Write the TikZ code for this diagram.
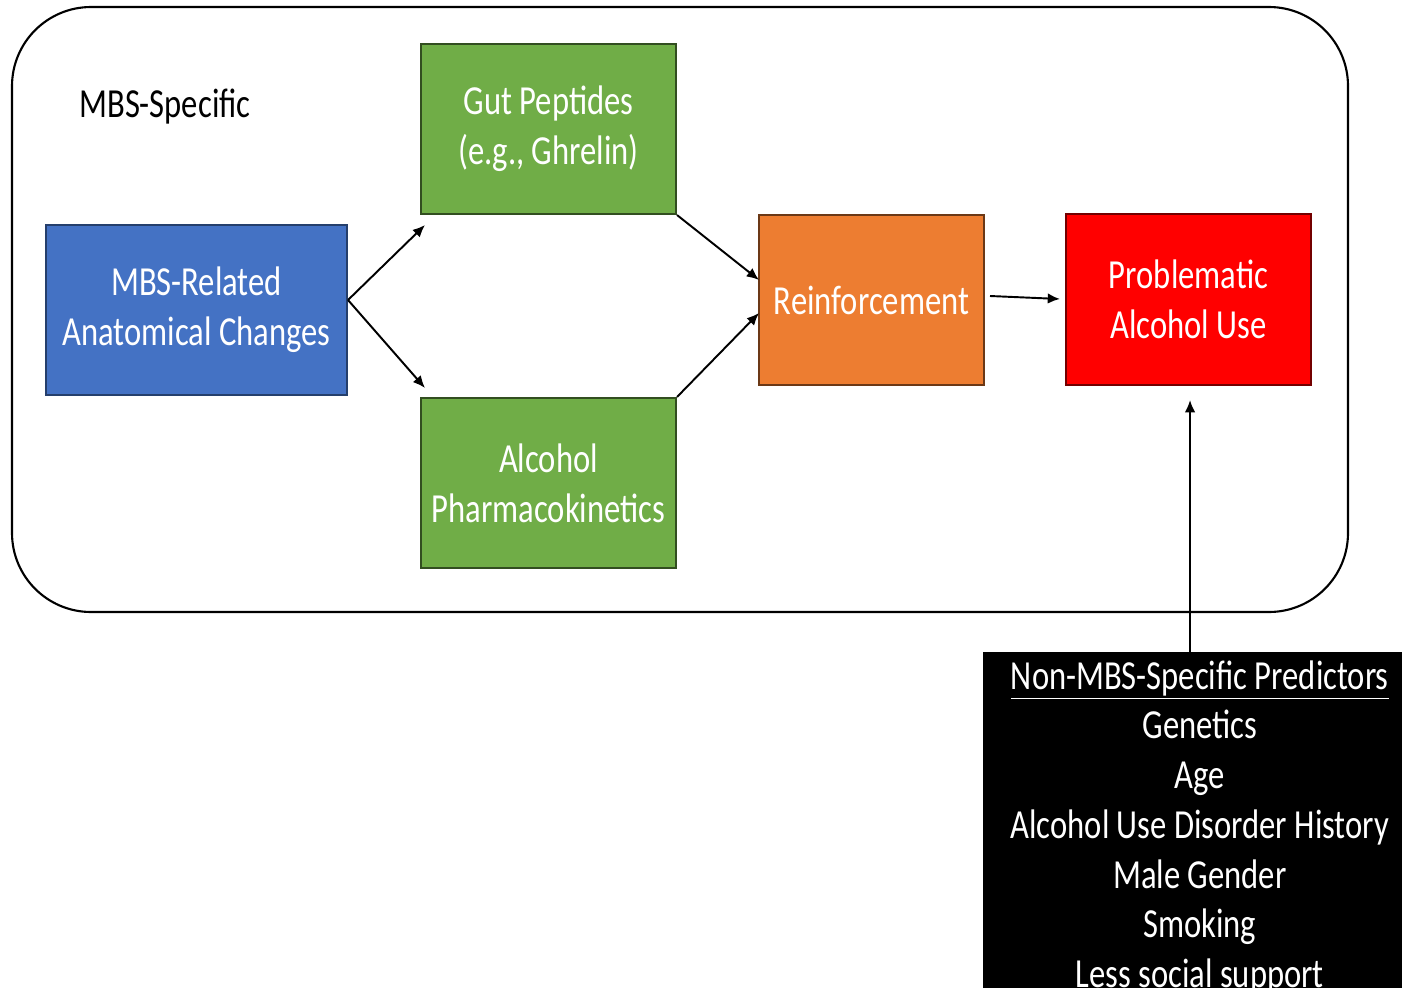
\documentclass[tikz,border=0pt]{standalone}
\usepackage{fontspec}
\setmainfont{Carlito}[FakeStretch=0.79]
\usetikzlibrary{arrows.meta}
\definecolor{mbsblue}{HTML}{4472C4}
\definecolor{mbsgreen}{HTML}{70AD47}
\definecolor{mbsorange}{HTML}{ED7D31}
\definecolor{mbsred}{HTML}{FF0000}
\tikzset{
  box/.style={line width=1.2pt, text=white, align=center, inner sep=0pt,
    font=\fontsize{23.5}{28.4}\selectfont},
  bluebox/.style={box, fill=mbsblue, draw=mbsblue!55!black},
  greenbox/.style={box, fill=mbsgreen, draw=mbsgreen!45!black},
  orangebox/.style={box, fill=mbsorange, draw=mbsorange!45!black},
  redbox/.style={box, fill=mbsred, draw=mbsred!45!black},
  link/.style={->, line width=1.1pt},
}
\begin{document}
\begin{tikzpicture}[x=0.02cm,y=-0.02cm,>={Latex[length=7pt,width=6pt]}]
	\useasboundingbox (0,0) rectangle (1402,987);
	\draw[line width=1.2pt, rounded corners=45pt] (12,7) rectangle (1348,612);
	\node[font=\fontsize{23.5}{28.4}\selectfont] (mbs) at (165,107) {MBS-Specific};
	\node[bluebox, minimum width=6.02cm, minimum height=3.4cm] (anat) at (196.5,310) {MBS-Related\\Anatomical Changes};
	\node[greenbox, minimum width=5.1cm, minimum height=3.4cm] (gut) at (548.5,129) {Gut Peptides\\(e.g., Ghrelin)};
	\node[greenbox, minimum width=5.1cm, minimum height=3.4cm] (pk) at (548.5,483) {Alcohol\\Pharmacokinetics};
	\node[orangebox, minimum width=4.5cm, minimum height=3.4cm] (reinf) at (871.5,300) {Reinforcement};
	\node[redbox, minimum width=4.9cm, minimum height=3.42cm] (prob) at (1188.5,299.5) {Problematic\\Alcohol Use};
	\node[fill=black, text=white, anchor=north west, align=flush center, text width=8.66cm,
		minimum height=7cm, inner xsep=0pt, inner ysep=2pt,
		font=\fontsize{23.5}{28.3}\selectfont] (pred) at (983,652)
		{\underline{Non-MBS-Specific Predictors}\\Genetics\\Age\\Alcohol Use Disorder History\\Male Gender\\Smoking\\Less social support};
	% arrow ends
	\coordinate (split) at (348,300);
	\coordinate (gutin) at (425,225);
	\coordinate (pkin) at (425,388);
	\coordinate (rin1) at (759,280);
	\coordinate (rin2) at (759,313);
	\coordinate (rout) at (990,296);
	\coordinate (pin) at (1060,299);
	\coordinate (predout) at (1190,652);
	\coordinate (probin) at (1190,400);
	\draw[link] (split) -- (gutin);
	\draw[link] (split) -- (pkin);
	\draw[link] (gut.south east) -- (rin1);
	\draw[link] (pk.north east) -- (rin2);
	\draw[link] (rout) -- (pin);
	\draw[link] (predout) -- (probin);
\end{tikzpicture}
\end{document}
